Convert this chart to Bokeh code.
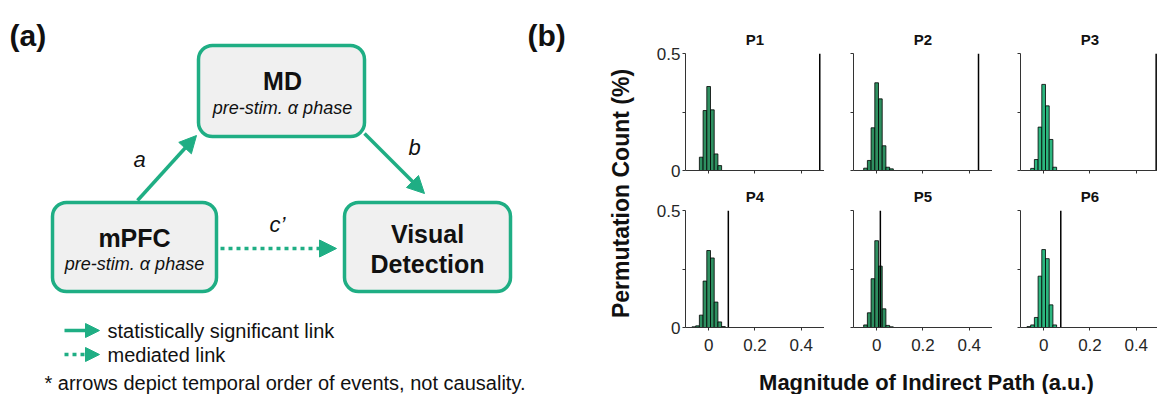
import numpy as np
from bokeh.plotting import figure
from bokeh.models import Range1d, FixedTicker, Arrow, NormalHead
from bokeh.layouts import row, column
from bokeh.embed import file_html
from bokeh.resources import INLINE
from bokeh.core.properties import value

# ---------------- data ----------------
panel_names = ["P1", "P2", "P3", "P4", "P5", "P6"]
bin_centers = [-0.064, -0.048, -0.032, -0.016, 0.0, 0.016, 0.032, 0.048, 0.064]
bin_width = 0.016
p1_counts = [0.0, 0.0, 0.057, 0.257, 0.360, 0.260, 0.071, 0.021, 0.0]
p2_counts = [0.0, 0.010, 0.043, 0.183, 0.376, 0.307, 0.106, 0.014, 0.007]
p3_counts = [0.0, 0.009, 0.047, 0.186, 0.369, 0.277, 0.133, 0.014, 0.0]
p4_counts = [0.003, 0.007, 0.053, 0.199, 0.330, 0.298, 0.109, 0.024, 0.004]
p5_counts = [0.0, 0.011, 0.063, 0.209, 0.372, 0.263, 0.080, 0.009, 0.003]
p6_counts = [0.004, 0.011, 0.043, 0.220, 0.334, 0.295, 0.097, 0.011, 0.0]
observed = [0.480, 0.440, 0.486, 0.085, 0.016, 0.074]
x_ticks = [0, 0.2, 0.4]
x_tick_labels = ["0", "0.2", "0.4"]
y_ticks = [0, 0.25, 0.5]
y_tick_labels = ["0", "", "0.5"]

# ---------------- styles ----------------
FONT = "Liberation Sans"
G = "#1fae84"
BOX_FILL = "#f0f0f0"
DARK_BAR = "#2e8f60"
LIGHT_BAR = "#2cb67f"
TXT = "#111111"
AX = "#333333"
PX_PER_UNIT = 231.5


def txt(p, x, y, s, size, style="normal", align="center", baseline="middle", angle=0.0, color=TXT):
    p.text(x=[x], y=[y], text=[s], text_font=value(FONT), text_font_size=size,
           text_font_style=style, text_align=align, text_baseline=baseline,
           angle=angle, text_color=color)


# ---------------- panel (a): diagram, page-pixel coordinates ----------------
pa = figure(frame_width=652, frame_height=394, x_range=Range1d(0, 652), y_range=Range1d(394, 0),
            x_axis_type=None, y_axis_type=None, toolbar_location=None, output_backend="svg",
            min_border=0, outline_line_color=None)

box_left = [198, 52, 344]
box_right = [364, 216, 510]
box_top = [45, 202, 202]
box_bottom = [136, 291, 291]
pa.quad(left=box_left, right=box_right, top=box_top, bottom=box_bottom, border_radius=14,
        fill_color=BOX_FILL, line_color=G, line_width=3.5)


def arrow(x0, y0, x1, y1, dash="solid", size=17):
    pa.add_layout(Arrow(end=NormalHead(size=size, fill_color=G, line_color=G, line_width=1),
                        x_start=x0, y_start=y0, x_end=x1, y_end=y1,
                        line_color=G, line_width=3.5, line_dash=dash))


arrow(137, 200, 196, 135)
arrow(364, 133, 424, 193)
arrow(220, 248, 336, 248, dash="4 4")
arrow(64, 330, 99, 330, size=14)
arrow(64, 354, 99, 354, dash="4 4", size=14)

txt(pa, 9, 35, "(a)", "30px", "bold", align="left")
txt(pa, 527, 35, "(b)", "30px", "bold", align="left")
txt(pa, 282, 80, "MD", "25px", "bold")
txt(pa, 282, 107, "pre-stim. α phase", "18px", "italic")
txt(pa, 134, 237, "mPFC", "25px", "bold")
txt(pa, 134, 263, "pre-stim. α phase", "18px", "italic")
txt(pa, 427, 233, "Visual", "25px", "bold")
txt(pa, 427, 263, "Detection", "25px", "bold")
txt(pa, 139, 159, "a", "22px", "italic")
txt(pa, 414, 147, "b", "22px", "italic")
txt(pa, 277, 224, "c\u2019", "22px", "italic")
txt(pa, 107, 330, "statistically significant link", "20px", align="left")
txt(pa, 107, 354, "mediated link", "20px", align="left")
txt(pa, 44, 382, "* arrows depict temporal order of events, not causality.", "20px", align="left")
txt(pa, 620, 193, "Permutation Count (%)", "23px", "bold", angle=np.pi / 2)

# ---------------- panel (b): histograms ----------------
all_counts = [p1_counts, p2_counts, p3_counts, p4_counts, p5_counts, p6_counts]
bar_colors = [DARK_BAR, DARK_BAR, LIGHT_BAR, DARK_BAR, DARK_BAR, LIGHT_BAR]
frame_widths = [139, 139, 137, 139, 139, 137]
left_borders = [33, 29, 28]


def hist(i):
    top_row = i < 3
    col = i % 3
    fw = frame_widths[i]
    x_end = -0.1 + fw / PX_PER_UNIT
    p = figure(frame_width=fw, frame_height=140, x_range=Range1d(-0.1, x_end),
               y_range=Range1d(0, 0.6), toolbar_location=None, output_backend="svg",
               outline_line_color=None,
               min_border_left=left_borders[col], min_border_right=0,
               min_border_top=30 if top_row else 5,
               min_border_bottom=12 if top_row else 30)
    p.xgrid.visible = False
    p.ygrid.visible = False
    xs = [c for c, h in zip(bin_centers, all_counts[i]) if h > 0]
    hs = [h for h in all_counts[i] if h > 0]
    p.vbar(x=xs, top=hs, bottom=0, width=bin_width, fill_color=bar_colors[i],
           line_color="black", line_width=0.8)
    p.segment(x0=[observed[i]], y0=[0], x1=[observed[i]], y1=[0.5],
              line_color="black", line_width=1.5)
    p.text(x=[0.2], y=[0.56], text=[panel_names[i]], text_font=value(FONT),
           text_font_size="15px", text_font_style="bold", text_align="center",
           text_baseline="middle", text_color=TXT)

    xa = p.xaxis[0]
    xa.bounds = (-0.1, x_end)
    xa.ticker = FixedTicker(ticks=x_ticks)
    if top_row:
        xa.major_label_overrides = {t: "" for t in x_ticks}
        xa.major_label_standoff = 2
    else:
        xa.major_label_overrides = {t: s for t, s in zip(x_ticks, x_tick_labels)}
        xa.major_label_standoff = 8
    ya = p.yaxis[0]
    ya.bounds = (0, 0.5)
    ya.ticker = FixedTicker(ticks=y_ticks)
    if col == 0:
        ya.major_label_overrides = {t: s for t, s in zip(y_ticks, y_tick_labels)}
    else:
        ya.major_label_overrides = {t: "" for t in y_ticks}
    ya.major_label_standoff = 2
    for ax in (xa, ya):
        ax.axis_line_color = AX
        ax.axis_line_width = 1
        ax.major_tick_line_color = AX
        ax.major_tick_out = 3
        ax.major_tick_in = 0
        ax.minor_tick_line_color = None
        ax.major_label_text_font = FONT
        ax.major_label_text_color = "#262626"
        ax.major_label_text_font_size = "17px"
    return p


hs_figs = [hist(i) for i in range(6)]

lab = figure(frame_width=505, frame_height=37, x_range=Range1d(652, 1157), y_range=Range1d(394, 357),
             x_axis_type=None, y_axis_type=None, toolbar_location=None, output_backend="svg",
             min_border=0, outline_line_color=None)
txt(lab, 926, 382, "Magnitude of Indirect Path (a.u.)", "22px", "bold")

colb = column(row(*hs_figs[:3], spacing=0), row(*hs_figs[3:], spacing=0), lab, spacing=0)
layout = row(pa, colb, spacing=0)

open("out.html", "w").write(file_html(layout, INLINE))
